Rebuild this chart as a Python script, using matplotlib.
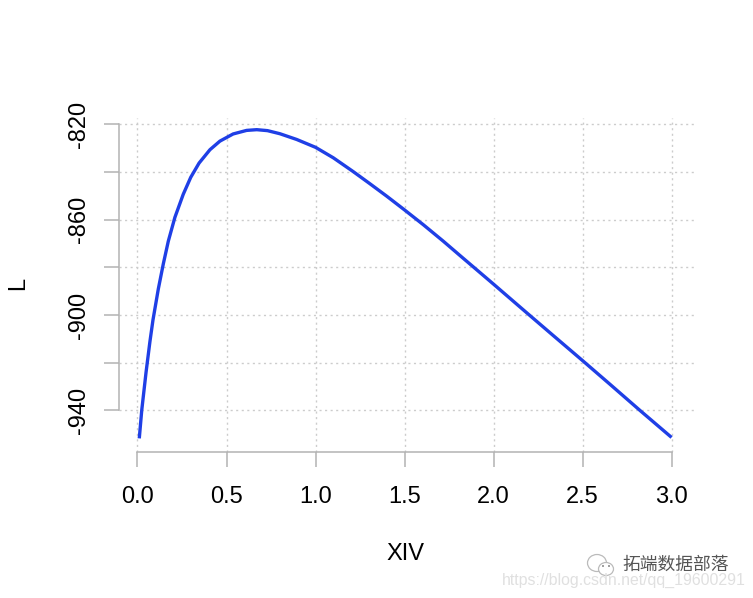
import matplotlib
matplotlib.use("Agg")
import matplotlib.pyplot as plt
from matplotlib.patches import Ellipse

plt.rcParams["font.family"] = ["Liberation Sans", "DejaVu Sans"]

xiv = [0.01, 0.024, 0.048, 0.07, 0.087, 0.117, 0.145, 0.173, 0.21, 0.257, 0.299, 0.346, 0.407, 0.463,
       0.537, 0.613, 0.67, 0.73, 0.80, 0.894, 1.0, 1.10, 1.212, 1.306, 1.40, 1.499, 1.606, 1.718, 1.821,
       1.92, 2.0, 2.183, 2.336, 2.499, 2.654, 2.823, 3.0]
loglik = [-951.7, -939.8, -924, -911, -902, -889, -878.5, -869, -859, -849.3, -842.2, -836.2,
          -830.6, -827, -824, -822.5, -822.2, -822.6, -823.9, -826.3, -829.6, -834, -839.8, -844.9,
          -850.1, -855.8, -862.1, -869, -875.6, -881.9, -887, -898.8, -908.6, -919, -929, -940, -951.3]

x_ticks = [0.0, 0.5, 1.0, 1.5, 2.0, 2.5, 3.0]
x_labels = ["0.0", "0.5", "1.0", "1.5", "2.0", "2.5", "3.0"]
y_ticks = [-940, -920, -900, -880, -860, -840, -820]
y_labels = ["-940", "", "-900", "", "-860", "", "-820"]

W, H = 753, 598
fig = plt.figure(figsize=(W / 100, H / 100), dpi=100)
ax = fig.add_axes([118.5 / W, 1 - 451.5 / H, (694 - 118.5) / W, (451.5 - 118) / H])
ax.set_xlim(-0.1067, 3.126)
ax.set_ylim(-957.2, -817.3)

ax.grid(True, color="#cccccc", linestyle=(0, (1.5, 2.5)), linewidth=1)
ax.set_axisbelow(True)
ax.plot(xiv, loglik, color="#1f3fe6", linewidth=2.4, solid_capstyle="butt")

for s in ["top", "right"]:
    ax.spines[s].set_visible(False)
ax.spines["left"].set_color("#b3b3b3")
ax.spines["bottom"].set_color("#b3b3b3")
ax.spines["left"].set_linewidth(1.1)
ax.spines["bottom"].set_linewidth(1.1)
ax.spines["left"].set_bounds(-940, -820)
ax.spines["bottom"].set_bounds(0, 3)

ax.set_xticks(x_ticks, x_labels)
ax.set_yticks(y_ticks, y_labels)
ax.tick_params(axis="both", color="#b3b3b3", length=10.5, width=1.1, labelsize=17)
ax.tick_params(axis="x", pad=14.5)
ax.tick_params(axis="y", pad=10)
for t in ax.get_yticklabels():
    t.set_rotation(90)
    t.set_va("center")

fig.text(405 / W, 1 - 554.5 / H, "XIV", fontsize=17, ha="center", va="center")
fig.text(18 / W, 1 - 283 / H, "L", fontsize=17, rotation=90, ha="center", va="center")

# watermark
fig.text(622 / W, 1 - 565 / H, "拓端数据部落", fontsize=12.8, color="#555555", ha="left", va="center",
         family=["Noto Sans CJK SC", "DejaVu Sans"])
fig.text(502 / W, 1 - 580 / H, "https://blog.csdn.net/qq_19600291", fontsize=11.4, color="#e0e0e0",
         ha="left", va="center")
for cx, cy, w, h in [(597, 563, 19, 17), (606, 569, 15, 13)]:
    fig.add_artist(Ellipse((cx / W, 1 - cy / H), w / W, h / H, transform=fig.transFigure,
                           facecolor="white", edgecolor="#bbbbbb", linewidth=0.9))
for cx, cy in [(603, 566), (609, 566)]:
    fig.add_artist(Ellipse((cx / W, 1 - cy / H), 2 / W, 2 / H, transform=fig.transFigure,
                           facecolor="#888888", edgecolor="none"))

fig.savefig("out.png", dpi=100)
